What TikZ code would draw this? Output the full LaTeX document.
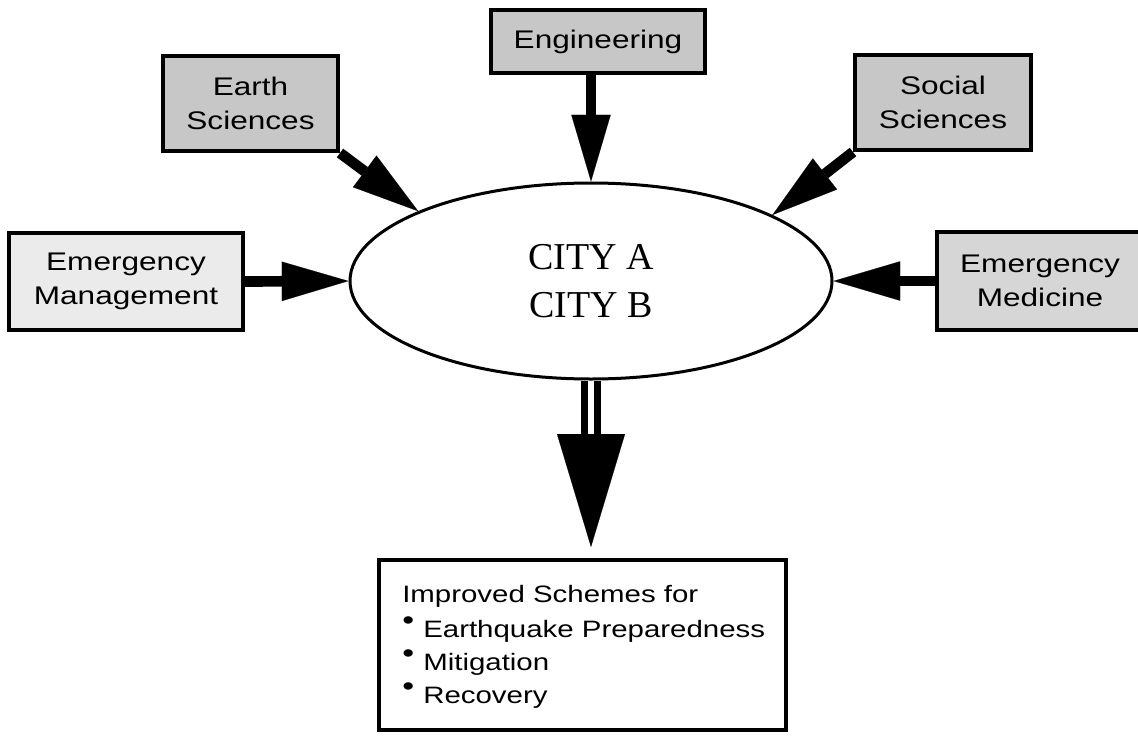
\documentclass[tikz,border=0pt]{standalone}
\usepackage{fontspec}
\usetikzlibrary{arrows.meta,shapes.geometric}
\newfontfamily\labfont[FakeStretch=1.24]{Liberation Sans}
\newfontfamily\cityfont{Liberation Serif}
\newcommand{\bul}{\makebox[15.75pt][l]{\raisebox{6pt}{\scalebox{1.15}{\textbullet}}}}
\begin{document}
\begin{tikzpicture}[x=0.75pt,y=-0.75pt,
  discbox/.style={draw, line width=3pt, fill=black!22, inner sep=0pt, align=center,
     font={\labfont\fontsize{19.1pt}{25pt}\selectfont}},
  fat/.style={line width=8pt, -{Triangle[length=50pt,width=29.5pt,line width=0.1pt]}},
  bighead/.style={line width=0.5pt, -{Triangle[length=84.75pt,width=51pt,line width=0.1pt]}},
  dshaft/.style={line width=5.25pt, double distance=4.5pt},
  listtext/.style={inner sep=0pt, anchor=base west, font={\labfont\fontsize{17.8pt}{25pt}\selectfont}}
]
\useasboundingbox (0,0) rectangle (1138,735);
\fill[white] (0,0) rectangle (1138,735);

% source boxes
\node[discbox, minimum width=131.25pt, minimum height=71.25pt] (earth) at (250.5,103.5) {Earth\\Sciences};
\node[discbox, minimum width=160.5pt, minimum height=47.25pt] (eng) at (598,41.5) {Engineering};
\node[discbox, minimum width=132pt, minimum height=71.25pt] (social) at (943,102.5) {Social\\Sciences};
\node[discbox, fill=black!8, minimum width=175.5pt, minimum height=72.75pt] (mgmt) at (126,281.5) {Emergency\\Management};
\node[discbox, fill=black!16, minimum width=154.5pt, minimum height=73.5pt] (med) at (1040,281) {Emergency\\Medicine};

% central ellipse
\node[ellipse, draw, line width=2.25pt, minimum width=361.5pt, minimum height=147pt, inner sep=0pt,
      align=center, font={\cityfont\fontsize{28.5pt}{36pt}\selectfont}] (city) at (591,281) {CITY A\\CITY B};

% result box
\node[draw, line width=3pt, minimum width=305.25pt, minimum height=127.5pt, inner sep=0pt] (res) at (582.5,645) {};
\node[listtext] (l1) at (402,602) {Improved Schemes for};
\node[listtext] (l2) at (402,637) {\bul Earthquake Preparedness};
\node[listtext] (l3) at (402,670) {\bul Mitigation};
\node[listtext] (l4) at (402,703) {\bul Recovery};

% arrows into the ellipse
\draw[fat] (earth.south east) -- (city.158);
\draw[fat] (eng.south -| city.north) -- (city.north);
\draw[fat] (social.south west) -- (city.20);
\draw[fat] (mgmt.east) -- (city.west);
\draw[fat] (med.west) -- (city.east);

% output arrow
\coordinate (hb) at (591,436);
\draw[dshaft] (city.south) -- (hb);
\draw[bighead, shorten >=8.25pt] (hb) -- (hb |- res.north);
\end{tikzpicture}
\end{document}
